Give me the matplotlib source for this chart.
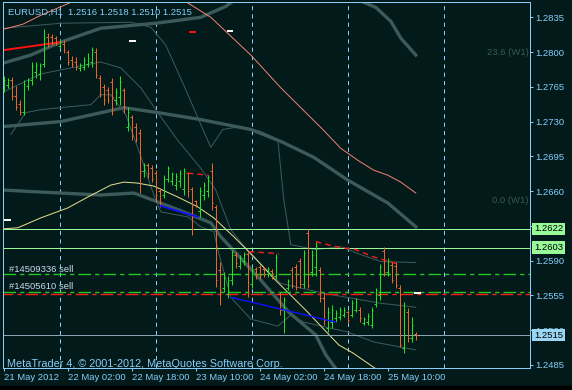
import numpy as np
import matplotlib.pyplot as plt

plt.rcParams['font.family'] = ['Liberation Sans', 'DejaVu Sans']
plt.rcParams['lines.scale_dashes'] = False

# hourly bars, 21 May 10:00 .. 25 May 17:00
opens = [1.2762, 1.2767, 1.2772, 1.2756, 1.2748, 1.2740, 1.2766, 1.2772, 1.2780, 1.2778,
         1.2788, 1.2815, 1.2815, 1.2814, 1.2806, 1.2808, 1.2800, 1.2792, 1.2790, 1.2784,
         1.2785, 1.2788, 1.2790, 1.2800, 1.2774, 1.2765, 1.2762, 1.2770, 1.2752, 1.2755,
         1.2762, 1.2725, 1.2735, 1.2725, 1.2718, 1.2680, 1.2686, 1.2683, 1.2678, 1.2660,
         1.2656, 1.2672, 1.2670, 1.2666, 1.2670, 1.2662, 1.2678, 1.2662, 1.2650, 1.2640,
         1.2656, 1.2660, 1.2680, 1.2644, 1.2580, 1.2562, 1.2556, 1.2570, 1.2596, 1.2585,
         1.2590, 1.2597, 1.2566, 1.2582, 1.2584, 1.2582, 1.2576, 1.2579, 1.2574, 1.2556,
         1.2540, 1.2562, 1.2580, 1.2584, 1.2590, 1.2566, 1.2618, 1.2578, 1.2584, 1.2580,
         1.2552, 1.2522, 1.2528, 1.2532, 1.2533, 1.2535, 1.2538, 1.2535, 1.2540, 1.2540,
         1.2527, 1.2528, 1.2525, 1.2546, 1.2555, 1.2600, 1.2578, 1.2586, 1.2585, 1.2562,
         1.2502, 1.2538, 1.2512, 1.2516]
highs = [1.2776, 1.2774, 1.2775, 1.2766, 1.2752, 1.2772, 1.2774, 1.2790, 1.2790, 1.2789,
         1.2823, 1.2819, 1.2818, 1.2816, 1.2812, 1.2812, 1.2802, 1.2796, 1.2795, 1.2789,
         1.2795, 1.2799, 1.2805, 1.2804, 1.2777, 1.2768, 1.2765, 1.2774, 1.2764, 1.2776,
         1.2764, 1.2745, 1.2737, 1.2729, 1.2722, 1.2688, 1.2688, 1.2686, 1.2681, 1.2663,
         1.2676, 1.2685, 1.2679, 1.2678, 1.2681, 1.2683, 1.2679, 1.2664, 1.2651, 1.2664,
         1.2669, 1.2676, 1.2688, 1.2646, 1.2589, 1.2578, 1.2574, 1.2601, 1.2599, 1.2596,
         1.2599, 1.2599, 1.2584, 1.2584, 1.2586, 1.2584, 1.2584, 1.2581, 1.2597, 1.2558,
         1.2553, 1.2571, 1.2584, 1.2587, 1.2593, 1.2601, 1.2622, 1.2601, 1.2609, 1.2584,
         1.2558, 1.2543, 1.2545, 1.2540, 1.2543, 1.2543, 1.2540, 1.2550, 1.2552, 1.2543,
         1.2533, 1.2537, 1.2543, 1.2562, 1.2587, 1.2604, 1.2593, 1.2589, 1.2589, 1.2565,
         1.2548, 1.2542, 1.2533, 1.2518]
lows = [1.2760, 1.2764, 1.2752, 1.2742, 1.2737, 1.2737, 1.2762, 1.2767, 1.2774, 1.2772,
        1.2785, 1.2805, 1.2807, 1.2807, 1.2804, 1.2799, 1.2787, 1.2785, 1.2782, 1.2781,
        1.2782, 1.2785, 1.2785, 1.2774, 1.2755, 1.2747, 1.2749, 1.2737, 1.2747, 1.2747,
        1.2739, 1.2720, 1.2711, 1.2709, 1.2658, 1.2674, 1.2673, 1.2669, 1.2649, 1.2644,
        1.2653, 1.2669, 1.2666, 1.2661, 1.2664, 1.2656, 1.2654, 1.2616, 1.2644, 1.2634,
        1.2651, 1.2654, 1.2641, 1.2563, 1.2545, 1.2558, 1.2552, 1.2565, 1.2583, 1.2581,
        1.2586, 1.2553, 1.2562, 1.2571, 1.2571, 1.2573, 1.2573, 1.2571, 1.2571, 1.2535,
        1.2517, 1.2560, 1.2562, 1.2560, 1.2562, 1.2562, 1.2562, 1.2574, 1.2574, 1.2548,
        1.2525, 1.2518, 1.2522, 1.2528, 1.2530, 1.2533, 1.2527, 1.2533, 1.2538, 1.2528,
        1.2525, 1.2525, 1.2522, 1.2543, 1.2550, 1.2574, 1.2574, 1.2567, 1.2562, 1.2503,
        1.2497, 1.2508, 1.2508, 1.2510]
closes = [1.2772, 1.2772, 1.2756, 1.2745, 1.2740, 1.2768, 1.2772, 1.2786, 1.2787, 1.2786,
          1.2814, 1.2809, 1.2809, 1.2809, 1.2810, 1.2802, 1.2790, 1.2788, 1.2785, 1.2787,
          1.2792, 1.2794, 1.2802, 1.2777, 1.2758, 1.2752, 1.2752, 1.2755, 1.2760, 1.2770,
          1.2745, 1.2740, 1.2715, 1.2712, 1.2680, 1.2686, 1.2678, 1.2672, 1.2656, 1.2648,
          1.2672, 1.2683, 1.2677, 1.2675, 1.2678, 1.2680, 1.2660, 1.2622, 1.2646, 1.2660,
          1.2666, 1.2674, 1.2648, 1.2570, 1.2560, 1.2572, 1.2570, 1.2596, 1.2588, 1.2593,
          1.2597, 1.2568, 1.2580, 1.2576, 1.2575, 1.2576, 1.2582, 1.2574, 1.2594, 1.2540,
          1.2550, 1.2569, 1.2565, 1.2563, 1.2566, 1.2598, 1.2565, 1.2596, 1.2605, 1.2552,
          1.2530, 1.2538, 1.2540, 1.2537, 1.2540, 1.2540, 1.2530, 1.2547, 1.2548, 1.2532,
          1.2531, 1.2534, 1.2540, 1.2560, 1.2584, 1.2578, 1.2590, 1.2570, 1.2565, 1.2505,
          1.2540, 1.2512, 1.2525, 1.2515]

# indicator lines (bar index, price)
thick_up1_x = [0, 6.75, 14.25, 24.25, 38, 49.25, 55.5, 57.5]
thick_up1_y = [1.2789, 1.2797, 1.2810, 1.2824, 1.2829, 1.2835, 1.2846, 1.2852]
thick_up2_x = [90, 93, 96.75, 99.25, 103]
thick_up2_y = [1.2850, 1.2845, 1.2831, 1.2814, 1.2797]
thick_mid_x = [0, 14.25, 30, 38.5, 49.25, 61.75, 69.25, 77.5, 86, 96, 103]
thick_mid_y = [1.2725, 1.2730, 1.2744, 1.2739, 1.2732, 1.2722, 1.2710, 1.2694, 1.2671, 1.2648, 1.2624]
thick_low_x = [0, 9.25, 24.25, 32.5, 38.5, 45, 51.75, 54.25, 63, 71.25, 78, 80.5, 83.75]
thick_low_y = [1.2661, 1.2659, 1.2656, 1.2658, 1.2649, 1.2639, 1.2628, 1.2614, 1.2576, 1.2538,
               1.2515, 1.2495, 1.2477]

thin_up_x = [0, 14.25, 31.75, 36.75, 40.5, 45.5, 49.25, 51.75, 54.75, 59.25, 64.25, 68.5,
             70, 71.75, 78, 84.25, 89.25, 94.25, 103]
thin_up_y = [1.2824, 1.2829, 1.2830, 1.2825, 1.2807, 1.2762, 1.2727, 1.2704, 1.2722, 1.2725,
             1.2720, 1.2712, 1.2651, 1.2606, 1.2601, 1.2604, 1.2596, 1.2589, 1.2588]
thin_mid_x = [0, 9.25, 14.25, 24.25, 29.25, 34.25, 38.5, 43.5, 49.25, 53, 56.75, 61.75,
              69.25, 80, 94.25, 103]
thin_mid_y = [1.2760, 1.2778, 1.2782, 1.2790, 1.2784, 1.2764, 1.2739, 1.2711, 1.2683, 1.2661,
              1.2621, 1.2596, 1.2567, 1.2557, 1.2547, 1.2543]
thin_low_x = [1.75, 5.5, 9.25, 21.75, 24.25, 26.75, 30.5, 34.25, 37.5, 39.25, 46, 49.25,
              52.5, 53.5, 56.75, 61.75, 68.5, 71.75, 75, 86, 92.5, 103]
thin_low_y = [1.2717, 1.2739, 1.2742, 1.2747, 1.2757, 1.2757, 1.2737, 1.2695, 1.2656, 1.2639,
              1.2634, 1.2624, 1.2619, 1.2601, 1.2553, 1.2531, 1.2524, 1.2535, 1.2528, 1.2518,
              1.2508, 1.2500]

salmon1_x = [0, 4.75, 9.25, 16.75, 18]
salmon1_y = [1.2823, 1.2828, 1.2837, 1.2850, 1.2853]
salmon2_x = [45, 51.75, 61.75, 69.25, 74.25, 79.75, 84.25, 88.5, 92.5, 96, 99.25, 103]
salmon2_y = [1.2852, 1.2835, 1.2797, 1.2764, 1.2744, 1.2722, 1.2703, 1.2691, 1.2681, 1.2676,
             1.2669, 1.2658]
red_x = [0, 14.25]
red_y = [1.2802, 1.2810]
ma_x = [0, 3.5, 9.25, 16, 21, 26.75, 30, 33.5, 37.5, 43.5, 48.5, 52.5, 57.5, 62.5, 67.25,
        75.5, 83.75, 87.25, 93, 95.5]
ma_y = [1.2622, 1.2623, 1.2633, 1.2643, 1.2654, 1.2666, 1.2669, 1.2668, 1.2665, 1.2654,
        1.2644, 1.2633, 1.2614, 1.2594, 1.2573, 1.2540, 1.2505, 1.2497, 1.2481, 1.2477]
blue1_x, blue1_y = [39.25, 48.5], [1.2645, 1.2634]
blue2_x, blue2_y = [56.75, 83], [1.2553, 1.2528]
rdash1_x, rdash1_y = [46, 51.25], [1.2678, 1.2676]
rdash2_x, rdash2_y = [61.25, 68.75], [1.2599, 1.2597]
rdash3_x = [78, 83, 88, 92.25, 98]
rdash3_y = [1.2609, 1.2604, 1.2601, 1.2594, 1.2587]
white_marks = [(31.25, 33, 1.2811), (55.75, 57.25, 1.2821), (0, 1.75, 1.2631), (102.5, 104.25, 1.2557)]
red_marks = [(46.25, 48, 1.2820)]

levels_green = [1.2622, 1.2603]
bid_level = 1.2515
orders = [('#14509336 sell', 1.2576), ('#14505610 sell', 1.2558)]
stop_level = 1.2556
day_seps = [14, 38, 62, 86, 110]
xtick_pos = [0, 16, 32, 48, 64, 80, 96]
xtick_lab = ['21 May 2012', '22 May 02:00', '22 May 18:00', '23 May 10:00',
             '24 May 02:00', '24 May 18:00', '25 May 10:00']
ytick_vals = [1.2485, 1.2520, 1.2555, 1.2590, 1.2625, 1.2660, 1.2695, 1.2730, 1.2765, 1.2800, 1.2835]

BG = '#021a1a'
FG = '#87cefa'
GRID = '#3d5a5a'
UP = '#1ee61e'
DN = '#f0642a'

fig = plt.figure(figsize=(5.72, 3.9), dpi=100, facecolor=BG)
ax = fig.add_axes([3 / 572, 1 - 368 / 390, 527 / 572, 366 / 390], facecolor=BG)
ax.set_xlim(-0.2, 131.55)
ax.set_ylim(1.24818, 1.28504)

px = 0.72  # one pixel in points
for x in day_seps:
    ax.axvline(x, color=FG, lw=px, ls=(0, (3, 3)), zorder=1)

ax.plot(thick_up1_x, thick_up1_y, color=GRID, lw=2.4, solid_capstyle='butt', zorder=2)
ax.plot(thick_up2_x, thick_up2_y, color=GRID, lw=2.4, zorder=2)
ax.plot(thick_mid_x, thick_mid_y, color=GRID, lw=2.4, zorder=2)
ax.plot(thick_low_x, thick_low_y, color=GRID, lw=2.4, zorder=2)
for xs, ys in [(thin_up_x, thin_up_y), (thin_mid_x, thin_mid_y), (thin_low_x, thin_low_y)]:
    ax.plot(xs, ys, color=GRID, lw=px, zorder=2)
ax.plot(salmon1_x, salmon1_y, color='#f08070', lw=px, zorder=2)
ax.plot(salmon2_x, salmon2_y, color='#f08070', lw=px, zorder=2)
ax.plot(red_x, red_y, color='#ff1010', lw=1.4, zorder=2)
ax.plot(ma_x, ma_y, color='#e6dc8c', lw=px, zorder=2)

for lv in levels_green:
    ax.axhline(lv, color='#98fb98', lw=px, zorder=2)
ax.axhline(bid_level, color='#8aa2b2', lw=px, zorder=2)
for name, lv in orders:
    ax.axhline(lv, color='#22c822', lw=1.0, ls=(0, (9, 3, 3, 3)), zorder=2)
ax.axhline(stop_level, color='#ff1a1a', lw=1.0, ls=(2, (9, 3, 3, 3)), zorder=2)

# bars
idx = np.arange(len(closes))
cols = [UP if c >= o else DN for o, c in zip(opens, closes)]
ax.vlines(idx, lows, highs, colors=cols, lw=px, zorder=4)
ax.hlines(opens, idx - 0.4, idx, colors=cols, lw=px, zorder=4)
ax.hlines(closes, idx, idx + 0.4, colors=cols, lw=px, zorder=4)

ax.plot(blue1_x, blue1_y, color='#1010ff', lw=1.3, zorder=5)
ax.plot(blue2_x, blue2_y, color='#1010ff', lw=1.0, zorder=5)
for xs, ys in [(rdash1_x, rdash1_y), (rdash2_x, rdash2_y), (rdash3_x, rdash3_y)]:
    ax.plot(xs, ys, color='#ff1a1a', lw=1.0, ls=(0, (4, 3)), zorder=5)
for x0, x1, y in white_marks:
    ax.hlines(y, x0, x1, color='white', lw=1.4, zorder=5)
for x0, x1, y in red_marks:
    ax.hlines(y, x0, x1, color='#ff1010', lw=1.4, zorder=5)

for name, lv in orders:
    ax.text(1.3, lv + 0.00055, name, color='#c8dcec', fontsize=6.8, va='center', zorder=6)
ax.text(131.2, 1.2800, '23.6 (W1)', color='#3c5656', fontsize=6.8, ha='right', va='center')
ax.text(131.2, 1.2650, '0.0 (W1)', color='#3c5656', fontsize=6.8, ha='right', va='center')
ax.text(1.0, 1.2840, 'EURUSD,H1  1.2516 1.2518 1.2510 1.2515', color=FG, fontsize=6.8,
        va='center', zorder=6)
ax.text(0.8, 1.24855, 'MetaTrader 4, \u00a9 2001-2012, MetaQuotes Software Corp.', color=FG,
        fontsize=7.8, va='center', zorder=6)

for sp in ax.spines.values():
    sp.set_color(FG)
    sp.set_linewidth(px)

ax.yaxis.tick_right()
ax.set_yticks(ytick_vals)
ax.set_yticklabels([f'{v:.4f}' for v in ytick_vals])
ax.set_xticks(xtick_pos)
ax.set_xticklabels(xtick_lab)
for lab in ax.get_xticklabels():
    lab.set_horizontalalignment('left')
ax.tick_params(axis='both', colors=FG, labelsize=6.8, length=2.2, width=px, pad=1.5)

for lv, face in [(1.2622, '#98fb98'), (1.2603, '#98fb98'), (bid_level, '#9ad6f2')]:
    ax.text(132.6, lv, f'{lv:.4f}', color='black', fontsize=6.8, va='center', ha='left',
            clip_on=False, zorder=10,
            bbox=dict(boxstyle='square,pad=0.18', fc=face, ec='none'))

fig.patches.append(plt.Rectangle((0, 0), 1, 4 / 390, transform=fig.transFigure,
                                 color='black', zorder=0))
fig.savefig('out.png', dpi=100, facecolor=BG)
